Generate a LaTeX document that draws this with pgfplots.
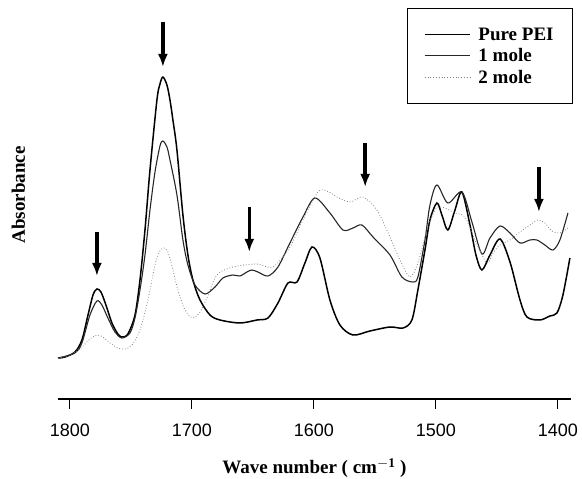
\documentclass[border=0pt]{standalone}
\usepackage{pgfplots}
\pgfplotsset{compat=1.18}
\usepackage{fontspec}
\setmainfont{Liberation Serif}
\newfontfamily\ticksf{Liberation Sans}
\usetikzlibrary{arrows.meta}
\begin{document}
\begin{tikzpicture}
\useasboundingbox (-58pt,-80pt) rectangle (524pt,399pt);
\begin{axis}[
  scale only axis, width=513pt, height=394pt,
  x dir=reverse, xmin=1389.3, xmax=1809.8, ymin=0, ymax=394,
  axis x line=bottom, axis y line=left,
  x axis line style={-, line width=1.2pt},
  y axis line style={draw=none},
  ytick=\empty,
  xtick={1400,1500,1600,1700,1800},
  xticklabels={1400,1500,1600,1700,1800},
  tick align=outside, major tick length=10pt,
  x tick style={line width=0.9pt, black},
  xticklabel style={font=\ticksf\fontsize{18}{20}\selectfont, yshift=-11pt},
  every axis x label/.style={at={(axis description cs:0.5,-0.175)},anchor=center},
  every axis y label/.style={at={(axis description cs:-0.077,0.518)},rotate=90,anchor=center},
  xlabel={\bfseries\fontsize{19}{22}\selectfont Wave number ( cm$^{\mathbf{-1}}$ )},
  ylabel={\bfseries\fontsize{19}{22}\selectfont Absorbance},
  legend image code/.code={\draw[#1] (0pt,0pt) -- (45pt,0pt); \path (51pt,0pt);},
  legend cell align=left,
  legend style={draw=black, line width=0.9pt, at={(axis description cs:1.004,0.992)}, anchor=north east,
    font=\bfseries\fontsize{19}{22}\selectfont, inner xsep=17pt, inner ysep=17pt, row sep=3pt},
]
\addplot[black, line width=1.5pt, smooth] coordinates {
(1809.8,41)(1804.1,42)(1795.9,47)(1790.2,59)(1785.2,84)(1781.1,104)(1777.9,110)(1774.6,107)
(1770.5,94)(1765.6,76)(1760.7,65)(1757.4,62)(1752.5,65)(1746.7,84)(1742.6,119)(1738.5,169)
(1734.4,229)(1728.7,299)(1726.2,315)(1723.8,322)(1720.5,314)(1718.0,299)(1715.6,279)(1712.3,249)
(1707.4,184)(1703.3,144)(1699.2,119)(1693.4,99)(1685.2,84)(1677.0,79)(1660.7,76)(1646.7,79)
(1637.7,81)(1629.5,96)(1621.3,116)(1613.9,117)(1607.4,136)(1601.6,152)(1595.1,141)(1586.9,99)
(1578.7,74)(1568.0,64)(1554.1,68)(1537.7,72)(1527.0,71)(1519.7,79)(1514.8,109)(1509.0,149)
(1504.9,179)(1499.2,196)(1495.1,184)(1490.2,169)(1484.4,189)(1478.7,207)(1472.1,174)(1467.2,144)
(1462.3,129)(1455.7,144)(1447.5,160)(1439.3,137)(1431.1,99)(1425.4,82)(1414.8,79)(1406.6,83)
(1400.8,86)(1395.9,104)(1390.2,141)
};
\addlegendentry{Pure PEI}
\addplot[black!85, line width=1.1pt, smooth] coordinates {
(1809.8,41)(1795.9,46)(1790.2,56)(1783.6,84)(1777.9,98)(1773.8,94)(1768.9,81)(1763.1,67)
(1757.4,61)(1750.8,66)(1746.7,81)(1742.6,109)(1738.5,144)(1734.4,189)(1730.3,227)(1726.2,253)
(1723.8,258)(1720.5,252)(1718.0,239)(1712.3,204)(1707.4,159)(1703.3,134)(1697.5,114)(1689.3,105)
(1681.1,112)(1674.6,121)(1666.4,124)(1660.7,123)(1654.9,127)(1650.8,129)(1645.9,127)(1637.7,123)
(1629.5,132)(1619.7,156)(1609.0,182)(1599.2,201)(1586.9,186)(1576.2,169)(1568.0,171)(1560.7,174)
(1551.6,162)(1537.7,144)(1527.9,122)(1518.9,117)(1514.8,122)(1509.0,159)(1504.9,194)(1499.2,214)
(1490.2,196)(1478.7,207)(1470.5,177)(1462.3,145)(1455.7,161)(1447.5,173)(1439.3,166)(1431.1,156)
(1423.0,159)(1417.2,159)(1410.7,154)(1404.1,149)(1398.4,159)(1391.8,186)
};
\addlegendentry{1 mole}
\addplot[black!50, line width=0.8pt, dotted, smooth] coordinates {
(1809.8,41)(1800,44)(1791.8,50)(1783.6,60)(1777.9,64)(1773.0,62)(1767.2,56)(1760.7,51)
(1754.9,50)(1749.2,54)(1742.6,69)(1736.1,99)(1730.3,134)(1726.2,148)(1723.0,151)(1719.7,147)
(1715.6,129)(1711.5,109)(1705.7,89)(1699.2,81)(1693.4,87)(1687.7,101)(1679.5,124)(1666.4,132)
(1646.7,135)(1633.6,132)(1619.7,152)(1609.0,179)(1596.7,207)(1589.3,208)(1581.1,202)(1570.5,197)
(1559.8,202)(1548.4,189)(1537.7,162)(1529.5,139)(1521.3,122)(1514.8,136)(1507.4,169)(1500.8,189)
(1495.1,192)(1484.4,186)(1476.2,182)(1468.0,159)(1458.2,136)(1453.3,146)(1447.5,154)(1439.3,159)
(1431.1,167)(1423.0,174)(1416.4,179)(1410.7,176)(1405.0,168)(1398.4,166)(1391.8,171)
};
\addlegendentry{2 mole}
\draw[line width=3.5pt, -{Latex[length=13pt,width=10pt]}] (axis cs:1777.9,167) -- (axis cs:1777.9,123);
\draw[line width=3.5pt, -{Latex[length=13pt,width=10pt]}] (axis cs:1723.8,377) -- (axis cs:1723.8,332);
\draw[line width=3.5pt, -{Latex[length=13pt,width=10pt]}] (axis cs:1653,192) -- (axis cs:1653,147);
\draw[line width=3.5pt, -{Latex[length=13pt,width=10pt]}] (axis cs:1558,256) -- (axis cs:1558,212);
\draw[line width=3.5pt, -{Latex[length=13pt,width=10pt]}] (axis cs:1415.6,232) -- (axis cs:1415.6,187);
\end{axis}
\end{tikzpicture}
\end{document}
